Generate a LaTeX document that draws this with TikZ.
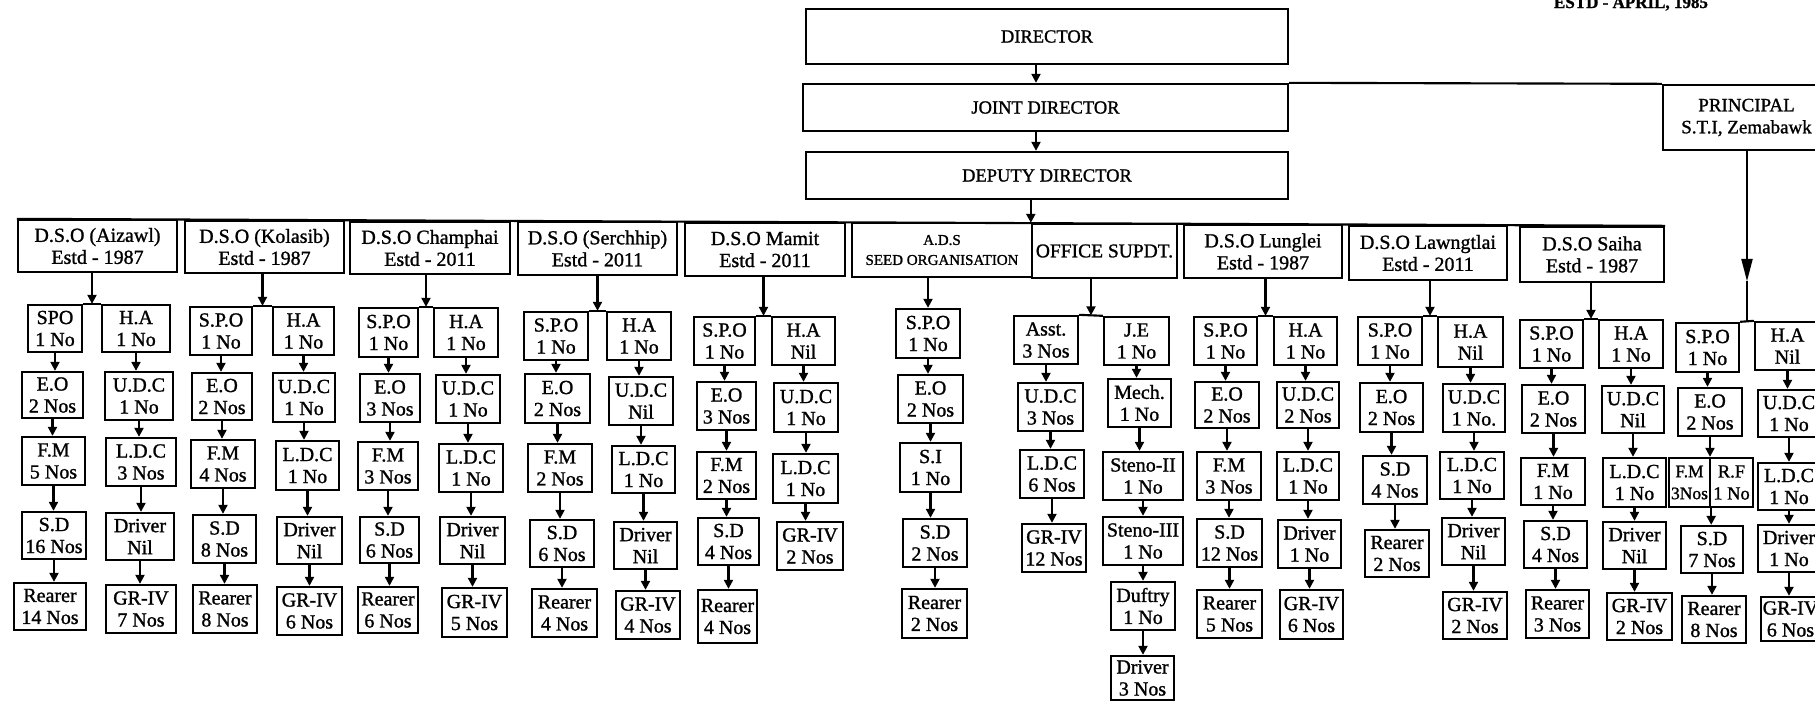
\documentclass[tikz,border=0pt]{standalone}
\usepackage{fontspec}
\setmainfont{Liberation Serif}[FakeBold=1.2]
\usetikzlibrary{arrows.meta,calc}
\tikzset{
  box/.style={draw, line width=0.95pt, inner sep=0pt, align=center, font=\fontsize{8}{8.8}\selectfont},
  arr/.style={line width=0.85pt, -{Triangle[length=3.6pt,width=3.6pt]}},
  bigarr/.style={line width=0.9pt, -{Triangle[length=9pt,width=4.4pt]}},
  ln/.style={line width=0.85pt},
  mainbox/.style={font=\fontsize{7.4}{8}\selectfont},
}
\newcommand\bx[7][]{%
  \pgfmathsetmacro\bxw{(#5-#3)*0.4}%
  \pgfmathsetmacro\bxh{(#6-#4)*0.4}%
  \node[box,minimum width=\bxw pt,minimum height=\bxh pt,#1] (#2) at ({(#3+#5)/2},{(#4+#6)/2}) {#7};%
}
\newcommand\subbus[3]{%
  \coordinate (#1m) at ($(#2.north east)!0.5!(#3.north west)$);%
  \draw[ln] (#2.north east) -- (#3.north west);%
  \draw[arr] (#1m |- #1.south) -- (#1m);%
}
\newcommand\colarr[2]{%
  \foreach \i in {2,...,#2}{%
    \pgfmathtruncatemacro\kprev{\i-1}%
    \draw[arr] (#1\kprev.south) -- (#1\kprev.south |- #1\i.north);%
  }%
}
\begin{document}
\begin{tikzpicture}[x=0.4pt,y=-0.4pt]
\useasboundingbox (0,0) rectangle (1815,703);
\clip (0,0) rectangle (1815,703);
\fill[white] (0,0) rectangle (1815,703);

\node[font=\bfseries\fontsize{6.8}{8}\selectfont, anchor=base, inner sep=0pt] (estd) at (1631,8) {ESTD - APRIL, 1985};

% top hierarchy
\bx[mainbox]{dir}{806}{9}{1288}{64}{DIRECTOR}
\bx[mainbox]{jd}{803}{84}{1288}{131}{JOINT DIRECTOR}
\bx[mainbox]{dd}{806}{152}{1288}{199}{DEPUTY DIRECTOR}
\bx[font=\fontsize{7.6}{8.8}\selectfont]{pr}{1663}{85}{1830}{150}{PRINCIPAL\\S.T.I, Zemabawk}
\coordinate (sp) at (1036,0);
\draw[arr] (dir.south -| sp) -- (jd.north -| sp);
\draw[arr] (jd.south -| sp) -- (dd.north -| sp);
\draw[ln] (jd.north east) -- (pr.north west);

% DSO level
\bx{az}{18}{220}{177}{272}{D.S.O (Aizawl)\\Estd - 1987}
\bx{ko}{185}{221}{344}{273}{D.S.O (Kolasib)\\Estd - 1987}
\bx{ch}{350}{222}{510}{274}{D.S.O Champhai\\Estd - 2011}
\bx{se}{518}{222}{677}{275}{D.S.O (Serchhip)\\Estd - 2011}
\bx{ma}{685}{223}{845}{276}{D.S.O Mamit\\Estd - 2011}
\bx[font=\fontsize{6}{8}\selectfont]{ad}{852}{223}{1032}{277}{A.D.S\\SEED ORGANISATION}
\bx[font=\fontsize{7.8}{9}\selectfont]{of}{1032}{224}{1177}{278}{OFFICE SUPDT.}
\bx{lu}{1184}{225}{1342}{278}{D.S.O Lunglei\\Estd - 1987}
\bx{la}{1349}{226}{1507}{280}{D.S.O Lawngtlai\\Estd - 2011}
\bx{sa}{1520}{227}{1664}{282}{D.S.O Saiha\\Estd - 1987}
\draw[ln] (az.north west) -- (sa.north east);
\draw[arr] (dd.south -| of.north west) -- (of.north west);

% Aizawl
\bx{azL1}{28}{305}{82}{352}{SPO\\1 No}
\bx{azL2}{22}{372}{83}{418}{E.O\\2 Nos}
\bx{azL3}{22}{437}{85}{485}{F.M\\5 Nos}
\bx{azL4}{22}{512}{86}{559}{S.D\\16 Nos}
\bx{azL5}{14}{583}{86}{630}{Rearer\\14 Nos}
\bx{azR1}{102}{305}{170}{352}{H.A\\1 No}
\bx{azR2}{105}{372}{173}{420}{U.D.C\\1 No}
\bx{azR3}{106}{438}{176}{486}{L.D.C\\3 Nos}
\bx{azR4}{106}{513}{174}{560}{Driver\\Nil}
\bx{azR5}{106}{585}{176}{633}{GR-IV\\7 Nos}
\subbus{az}{azL1}{azR1}
\colarr{azL}{5}
\colarr{azR}{5}

% Kolasib
\bx{koL1}{190}{307}{252}{355}{S.P.O\\1 No}
\bx{koL2}{192}{373}{252}{420}{E.O\\2 Nos}
\bx{koL3}{191}{440}{255}{488}{F.M\\4 Nos}
\bx{koL4}{193}{515}{256}{563}{S.D\\8 Nos}
\bx{koL5}{193}{585}{257}{633}{Rearer\\8 Nos}
\bx{koR1}{273}{307}{334}{355}{H.A\\1 No}
\bx{koR2}{273}{373}{335}{422}{U.D.C\\1 No}
\bx{koR3}{276}{441}{339}{490}{L.D.C\\1 No}
\bx{koR4}{277}{517}{342}{564}{Driver\\Nil}
\bx{koR5}{277}{587}{342}{635}{GR-IV\\6 Nos}
\subbus{ko}{koL1}{koR1}
\colarr{koL}{5}
\colarr{koR}{5}

% Champhai
\bx{chL1}{359}{308}{418}{357}{S.P.O\\1 No}
\bx{chL2}{360}{374}{420}{422}{E.O\\3 Nos}
\bx{chL3}{358}{442}{418}{490}{F.M\\3 Nos}
\bx{chL4}{360}{517}{419}{563}{S.D\\6 Nos}
\bx{chL5}{358}{587}{418}{633}{Rearer\\6 Nos}
\bx{chR1}{434}{308}{498}{357}{H.A\\1 No}
\bx{chR2}{436}{375}{500}{423}{U.D.C\\1 No}
\bx{chR3}{439}{444}{503}{492}{L.D.C\\1 No}
\bx{chR4}{440}{517}{505}{564}{Driver\\Nil}
\bx{chR5}{442}{588}{507}{637}{GR-IV\\5 Nos}
\subbus{ch}{chL1}{chR1}
\colarr{chL}{5}
\colarr{chR}{5}

% Serchhip
\bx{seL1}{524}{312}{588}{360}{S.P.O\\1 No}
\bx{seL2}{525}{374}{590}{423}{E.O\\2 Nos}
\bx{seL3}{528}{444}{592}{492}{F.M\\2 Nos}
\bx{seL4}{530}{520}{594}{567}{S.D\\6 Nos}
\bx{seL5}{532}{589}{597}{637}{Rearer\\4 Nos}
\bx{seR1}{607}{312}{671}{360}{H.A\\1 No}
\bx{seR2}{609}{377}{673}{425}{U.D.C\\Nil}
\bx{seR3}{612}{446}{675}{493}{L.D.C\\1 No}
\bx{seR4}{614}{522}{677}{569}{Driver\\Nil}
\bx{seR5}{616}{591}{680}{639}{GR-IV\\4 Nos}
\subbus{se}{seL1}{seR1}
\colarr{seL}{5}
\colarr{seR}{5}

% Mamit
\bx{maL1}{694}{317}{755}{365}{S.P.O\\1 No}
\bx{maL2}{697}{382}{756}{430}{E.O\\3 Nos}
\bx{maL3}{697}{452}{756}{499}{F.M\\2 Nos}
\bx{maL4}{698}{518}{759}{565}{S.D\\4 Nos}
\bx{maL5}{698}{590}{757}{643}{Rearer\\4 Nos}
\bx{maR1}{772}{317}{835}{365}{H.A\\Nil}
\bx{maR2}{774}{383}{838}{432}{U.D.C\\1 No}
\bx{maR3}{773}{454}{838}{503}{L.D.C\\1 No}
\bx{maR4}{777}{522}{843}{570}{GR-IV\\2 Nos}
\subbus{ma}{maL1}{maR1}
\colarr{maL}{5}
\colarr{maR}{4}

% ADS seed organisation
\bx{adL1}{896}{309}{960}{358}{S.P.O\\1 No}
\bx{adL2}{898}{375}{963}{423}{E.O\\2 Nos}
\bx{adL3}{900}{443}{961}{492}{S.I\\1 No}
\bx{adL4}{903}{519}{967}{567}{S.D\\2 Nos}
\bx{adL5}{902}{589}{967}{638}{Rearer\\2 Nos}
\draw[arr] (adL1.north |- ad.south) -- (adL1.north);
\colarr{adL}{5}

% Office Supdt.
\bx{ofL1}{1014}{316}{1078}{364}{Asst.\\3 Nos}
\bx{ofL2}{1018}{383}{1083}{431}{U.D.C\\3 Nos}
\bx{ofL3}{1020}{450}{1084}{498}{L.D.C\\6 Nos}
\bx{ofL4}{1022}{524}{1086}{572}{GR-IV\\12 Nos}
\bx{ofR1}{1104}{317}{1169}{365}{J.E\\1 No}
\bx{ofR2}{1108}{379}{1171}{427}{Mech.\\1 No}
\bx{ofR3}{1103}{452}{1183}{500}{Steno-II\\1 No}
\bx{ofR4}{1103}{517}{1183}{565}{Steno-III\\1 No}
\bx{ofR5}{1111}{582}{1175}{630}{Duftry\\1 No}
\bx{ofR6}{1111}{656}{1174}{700}{Driver\\3 Nos}
\subbus{of}{ofL1}{ofR1}
\colarr{ofL}{4}
\colarr{ofR}{6}

% Lunglei
\bx{luL1}{1194}{317}{1257}{365}{S.P.O\\1 No}
\bx{luL2}{1195}{382}{1259}{428}{E.O\\2 Nos}
\bx{luL3}{1197}{452}{1261}{500}{F.M\\3 Nos}
\bx{luL4}{1197}{519}{1262}{567}{S.D\\12 Nos}
\bx{luL5}{1197}{590}{1262}{638}{Rearer\\5 Nos}
\bx{luR1}{1274}{317}{1337}{365}{H.A\\1 No}
\bx{luR2}{1277}{382}{1339}{428}{U.D.C\\2 Nos}
\bx{luR3}{1277}{452}{1339}{500}{L.D.C\\1 No}
\bx{luR4}{1278}{520}{1341}{568}{Driver\\1 No}
\bx{luR5}{1280}{590}{1343}{639}{GR-IV\\6 Nos}
\subbus{lu}{luL1}{luR1}
\colarr{luL}{5}
\colarr{luR}{5}

% Lawngtlai
\bx{laL1}{1358}{317}{1422}{365}{S.P.O\\1 No}
\bx{laL2}{1360}{383}{1423}{432}{E.O\\2 Nos}
\bx{laL3}{1363}{456}{1427}{504}{S.D\\4 Nos}
\bx{laL4}{1365}{530}{1429}{577}{Rearer\\2 Nos}
\bx{laR1}{1438}{317}{1503}{367}{H.A\\Nil}
\bx{laR2}{1443}{384}{1505}{432}{U.D.C\\1 No.}
\bx{laR3}{1440}{452}{1504}{499}{L.D.C\\1 No}
\bx{laR4}{1442}{518}{1505}{565}{Driver\\Nil}
\bx{laR5}{1443}{592}{1507}{639}{GR-IV\\2 Nos}
\subbus{la}{laL1}{laR1}
\colarr{laL}{4}
\colarr{laR}{5}

% Saiha
\bx{saL1}{1520}{320}{1583}{368}{S.P.O\\1 No}
\bx{saL2}{1522}{385}{1585}{433}{E.O\\2 Nos}
\bx{saL3}{1521}{458}{1585}{505}{F.M\\1 No}
\bx{saL4}{1524}{521}{1587}{568}{S.D\\4 Nos}
\bx{saL5}{1526}{590}{1589}{638}{Rearer\\3 Nos}
\bx{saR1}{1599}{320}{1663}{368}{H.A\\1 No}
\bx{saR2}{1602}{386}{1664}{433}{U.D.C\\Nil}
\bx{saR3}{1603}{458}{1666}{507}{L.D.C\\1 No}
\bx{saR4}{1603}{522}{1666}{569}{Driver\\Nil}
\bx{saR5}{1607}{593}{1672}{640}{GR-IV\\2 Nos}
\subbus{sa}{saL1}{saR1}
\colarr{saL}{5}
\colarr{saR}{5}

% S.T.I Zemabawk
\bx{stL1}{1676}{323}{1739}{372}{S.P.O\\1 No}
\bx{stL2}{1678}{388}{1742}{436}{E.O\\2 Nos}
\bx[font=\fontsize{7}{8.8}\selectfont]{stFM}{1669}{458}{1710}{507}{F.M\\3Nos}
\bx[font=\fontsize{7.4}{8.8}\selectfont]{stRF}{1710}{458}{1753}{507}{R.F\\1 No}
\bx{stL4}{1681}{526}{1743}{573}{S.D\\7 Nos}
\bx{stL5}{1682}{596}{1746}{643}{Rearer\\8 Nos}
\bx{stR1}{1755}{322}{1820}{370}{H.A\\Nil}
\bx{stR2}{1758}{390}{1820}{437}{U.D.C\\1 No}
\bx{stR3}{1758}{463}{1820}{510}{L.D.C\\1 No}
\bx{stR4}{1758}{525}{1820}{572}{Driver\\1 No}
\bx{stR5}{1761}{597}{1820}{641}{GR-IV\\6 Nos}
\coordinate (stm) at ($(stL1.north east)!0.5!(stR1.north west)$);
\coordinate (sttip) at ($(stm)+(0,-40)$);
\draw[ln] (stL1.north east) -- (stR1.north west);
\draw[bigarr] (stm |- pr.south) -- (sttip);
\draw[ln] (sttip) -- (stm);
\draw[arr] (stL1.south) -- (stL1.south |- stL2.north);
\draw[arr] (stL2.south) -- (stL2.south |- stFM.north east);
\draw[arr] (stFM.south east) -- (stFM.south east |- stL4.north);
\draw[arr] (stL4.south) -- (stL4.south |- stL5.north);
\colarr{stR}{5}
\end{tikzpicture}
\end{document}
